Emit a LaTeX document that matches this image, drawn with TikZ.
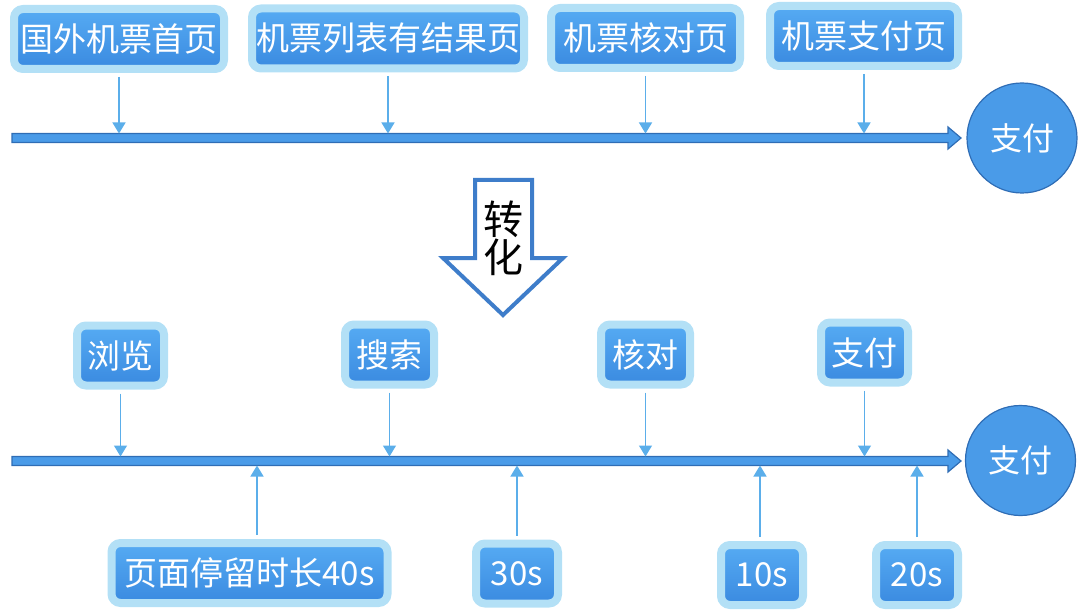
\documentclass[tikz,border=0pt]{standalone}
\usepackage{fontspec}
\newfontfamily\cjk{Noto Sans CJK SC}
\usetikzlibrary{arrows.meta, positioning}
\definecolor{haloblue}{HTML}{B3E0F6}
\definecolor{boxtop}{HTML}{56ABF3}
\definecolor{boxbot}{HTML}{3A8AE0}
\definecolor{lineblue}{HTML}{4A9BE8}
\definecolor{edgeblue}{HTML}{2F6DB5}
\definecolor{tickblue}{HTML}{5BAEEA}
\definecolor{turnblue}{HTML}{3E7DCA}

\begin{document}
\begin{tikzpicture}[x=1pt, y=-1pt,
		tag/.style={draw=haloblue, line width=8pt, rounded corners=9pt,
						top color=boxtop, bottom color=boxbot, text=white,
						minimum height=60pt, inner sep=0pt,
						font=\cjk\fontsize{33}{35}\selectfont},
		goal/.style={circle, draw=edgeblue, line width=1.2pt, fill=lineblue,
						minimum size=110pt, text=white,
						font=\cjk\fontsize{32}{34}\selectfont},
		tick/.style={draw=tickblue, line width=1.3pt, shorten <=4pt,
						-{Triangle[width=13pt,length=11pt]}},
		flow/.style={draw=edgeblue, line width=1.2pt, fill=lineblue}]

			\useasboundingbox (0,0) rectangle (1080,615);

			% Pages of the booking flow
			\node[tag, minimum width=210pt] (t1) at (119,39) {国外机票首页};
			\node[tag, minimum width=272pt] (t2) at (388,38.5) {机票列表有结果页};
			\node[tag, minimum width=189pt] (t3) at (645.5,38) {机票核对页};
			\node[tag, minimum width=188pt] (t4) at (864,36) {机票支付页};

			% Upper time line
			\draw[flow] (12,133.5) -- (948,133.5) -- (948,127) -- (961,138)
				-- (948,149) -- (948,142.5) -- (12,142.5) -- cycle;
			\node[goal] (pay1) at (1022,138) {支付};

			\coordinate (a1) at (119,133.5);
			\coordinate (a2) at (388,133.5);
			\coordinate (a3) at (645.5,133.5);
			\coordinate (a4) at (864,133.5);

			\draw[tick] (t1) -- (a1);
			\draw[tick] (t2) -- (a2);
			\draw[tick] (t3) -- (a3);
			\draw[tick] (t4) -- (a4);

			% Big arrow in the middle
			\draw[turnblue, line width=4pt, fill=white, line join=miter]
				(475,180) -- (532,180) -- (532,258) -- (563,258) -- (503,315)
				-- (443,258) -- (475,258) -- cycle;
			\node[align=center, font=\cjk\fontsize{40}{38}\selectfont] (turn)
				at (503,238) {转\\化};

			% Steps of the user
			\node[tag, minimum width=87pt] (b1) at (120.5,355.5) {浏览};
			\node[tag, minimum width=89pt] (b2) at (389.5,354.5) {搜索};
			\node[tag, minimum width=89pt] (b3) at (645.5,354.5) {核对};
			\node[tag, minimum width=87pt] (b4) at (864.5,352.5) {支付};

			% Lower time line
			\draw[flow] (12,456.5) -- (948,456.5) -- (948,450) -- (961,461)
				-- (948,472) -- (948,465.5) -- (12,465.5) -- cycle;
			\node[goal] (pay2) at (1020.5,460.5) {支付};

			\coordinate (d1) at (120.5,456.5);
			\coordinate (d2) at (389.5,456.5);
			\coordinate (d3) at (645.5,456.5);
			\coordinate (d4) at (864.5,456.5);

			\draw[tick] (b1) -- (d1);
			\draw[tick] (b2) -- (d2);
			\draw[tick] (b3) -- (d3);
			\draw[tick] (b4) -- (d4);

			% Time spent
			\node[tag, minimum width=276pt] (s1) at (249.5,573) {页面停留时长40s};
			\node[tag, minimum width=82pt] (s2) at (517,573.5) {30s};
			\node[tag, minimum width=82pt] (s3) at (762,575) {10s};
			\node[tag, minimum width=82pt] (s4) at (917,575) {20s};

			\coordinate (u1) at (257,465.5);
			\coordinate (u2) at (517,465.5);
			\coordinate (u3) at (760,465.5);
			\coordinate (u4) at (917,465.5);

			\draw[tick] (s1.north -| u1) -- (u1);
			\draw[tick] (s2.north -| u2) -- (u2);
			\draw[tick] (s3.north -| u3) -- (u3);
			\draw[tick] (s4.north -| u4) -- (u4);

		\end{tikzpicture}
\end{document}
